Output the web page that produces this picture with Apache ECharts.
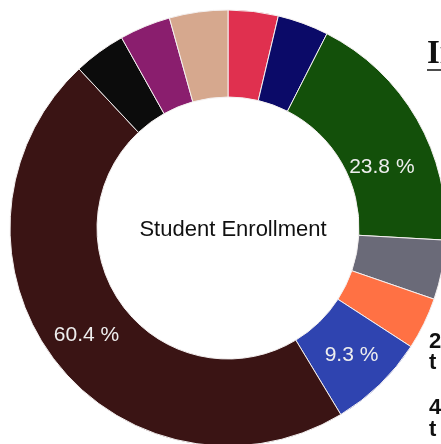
<!DOCTYPE html>
<html>
<head>
<meta charset="utf-8">
<script src="https://cdn.jsdelivr.net/npm/echarts@6/dist/echarts.min.js"></script>
<style>
html,body{margin:0;padding:0;background:#fff;}
#c{width:441px;height:444px;}
</style>
</head>
<body>
<div id="c"></div>
<script>
// Slices listed clockwise from 12 o'clock
const categories = ['Red', 'Navy', 'Green', 'Gray', 'Orange', 'Blue', 'Brown', 'Black', 'Purple', 'Tan'];
const values = [4.8, 4.9, 23.8, 5.7, 5.0, 9.3, 60.4, 5.0, 4.9, 5.6];
const colors = ['#e0304f', '#0b0a68', '#13500a', '#6a6a78', '#ff7144', '#2f44b0', '#3a1414', '#0c0c0c', '#8a1e6e', '#d6a88e'];
const centerTitle = 'Student Enrollment';
const labelThreshold = 9;

const chart = echarts.init(document.getElementById('c'), null, {renderer: 'canvas'});
const data = categories.map((n, i) => {
  const item = {name: n, value: values[i], itemStyle: {color: colors[i]}};
  if (n === 'Green') item.label = {formatter: p => '\n\n' + p.value + ' %', lineHeight: 28};
  return item;
});
chart.setOption({
  animation: false,
  backgroundColor: '#ffffff',
  title: {
    text: centerTitle,
    left: 228, top: 225,
    textAlign: 'center', textVerticalAlign: 'middle',
    textStyle: {fontFamily: 'Liberation Sans, Arial, sans-serif', fontSize: 22, fontWeight: 'normal', color: '#111'}
  },
  series: [{
    type: 'pie',
    center: [228, 228],
    radius: [131, 218],
    startAngle: 90,
    clockwise: true,
    avoidLabelOverlap: false,
    itemStyle: {borderColor: '#f4f0f0', borderWidth: 1},
    label: {
      show: true,
      position: 'inside',
      fontFamily: 'Liberation Sans, Arial, sans-serif',
      fontSize: 21,
      color: '#eeeeee',
      formatter: p => p.value >= labelThreshold ? p.value + ' %' : ''
    },
    labelLine: {show: false},
    emphasis: {disabled: true},
    data: data
  }],
  graphic: [
    {type: 'text', left: 427, top: 38, style: {text: 'Institution', font: 'bold 33px "Liberation Serif", serif', fill: '#111'}},
    {type: 'line', shape: {x1: 427, y1: 70, x2: 441, y2: 70}, style: {stroke: '#111', lineWidth: 1.5}},
    {type: 'text', left: 429, top: 331, style: {text: '2', font: 'bold 22px "Liberation Sans", Arial, sans-serif', fill: '#111'}},
    {type: 'text', left: 429, top: 352, style: {text: 't', font: 'bold 22px "Liberation Sans", Arial, sans-serif', fill: '#111'}},
    {type: 'text', left: 429, top: 397, style: {text: '4', font: 'bold 22px "Liberation Sans", Arial, sans-serif', fill: '#111'}},
    {type: 'text', left: 429, top: 419, style: {text: 't', font: 'bold 22px "Liberation Sans", Arial, sans-serif', fill: '#111'}}
  ]
});
</script>
</body>
</html>
